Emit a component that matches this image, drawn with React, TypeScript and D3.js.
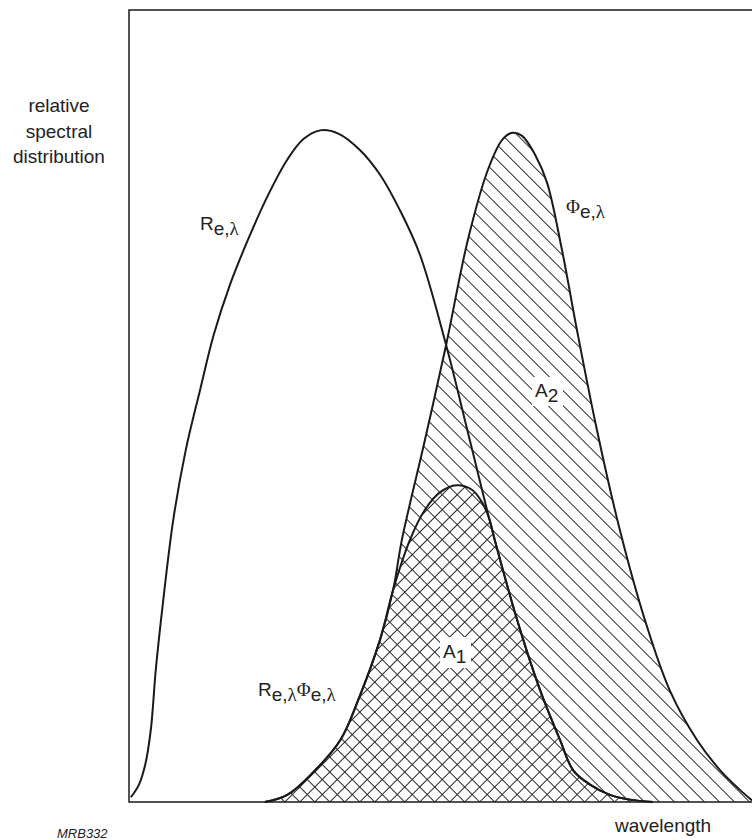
import React from "react";
import * as d3 from "d3";

// wavelength (arbitrary units, 0..100 across the frame) and relative value (0..100)
const reWl = [0.3, 1.6, 2.6, 3.5, 4.3, 5.5, 7.1, 9.1, 11.4, 13.6, 16.2, 19.1, 22.3, 25.4, 28.0, 30.7, 33.6, 37.1, 40.3, 43.5, 46.7, 50.9, 54.7, 58.7, 62.8, 66.0, 69.2, 71.3, 74.0, 77.2, 80.4, 84.1];
const reVal = [0.6, 2.2, 4.7, 9.1, 16.7, 25.5, 35.6, 44.4, 52.0, 59.0, 65.3, 71.0, 76.6, 81.1, 83.7, 84.8, 84.4, 82.3, 79.2, 74.7, 69.1, 57.7, 45.7, 33.1, 21.7, 14.1, 7.8, 4.0, 2.2, 0.9, 0.3, 0];

const phiWl = [21.8, 25.4, 29.5, 33.9, 36.8, 40.3, 42.4, 43.8, 47.5, 50.9, 54.4, 57.6, 59.9, 61.5, 63.1, 65.2, 67.1, 69.5, 71.9, 75.1, 78.8, 82.8, 86.8, 91.2, 94.9, 98.1, 100];
const phiVal = [0, 0.9, 3.7, 7.8, 12.9, 20.5, 26.8, 33.1, 45.7, 57.7, 71.0, 79.8, 83.6, 84.5, 84.1, 81.7, 78.2, 69.7, 59.6, 47.0, 34.3, 23.0, 14.1, 7.8, 4.0, 1.5, 0.2];

const prodWl = [21.8, 25.4, 29.5, 33.9, 36.8, 40.3, 42.4, 45.1, 47.5, 49.9, 52.6, 55.1, 56.7, 57.9, 58.7, 62.8, 66.0, 69.2, 71.3, 74.0, 77.2, 80.4, 84.1];
const prodVal = [0, 0.9, 3.7, 7.8, 12.9, 20.5, 26.8, 33.1, 36.9, 39.1, 40.0, 39.4, 37.8, 35.6, 33.1, 21.7, 14.1, 7.8, 4.0, 2.2, 0.9, 0.3, 0];

const yLabel = ["relative", "spectral", "distribution"];

const W = 752;
const H = 840;
const left = 129;
const top = 10;
const bottom = 802;

const x = d3.scaleLinear().domain([0, 100]).range([left, W]);
const y = d3.scaleLinear().domain([0, 100]).range([bottom, top]);

const toPts = (wl: number[], v: number[]) => wl.map((w, i) => [w, v[i]] as [number, number]);

const line = d3
  .line<[number, number]>()
  .x((d) => x(d[0]))
  .y((d) => y(d[1]))
  .curve(d3.curveCatmullRom.alpha(0.5));

const area = d3
  .area<[number, number]>()
  .x((d) => x(d[0]))
  .y0(y(0))
  .y1((d) => y(d[1]))
  .curve(d3.curveCatmullRom.alpha(0.5));

const ink = "#1a1a1a";
const sans = "'Liberation Sans', Arial, Helvetica, sans-serif";
const serif = "'Liberation Serif', 'Times New Roman', serif";

export default function App() {
  const re = toPts(reWl, reVal);
  const phi = toPts(phiWl, phiVal);
  const prod = toPts(prodWl, prodVal);

  return (
    <svg width={W} height={H} style={{ position: "absolute", left: 0, top: 0, background: "#fff" }}>
      <defs>
        <pattern id="back" patternUnits="userSpaceOnUse" width={10.6} height={10.6} patternTransform="rotate(-45)">
          <line x1={5.3} y1={-1} x2={5.3} y2={12} stroke="#222" strokeWidth={1} />
        </pattern>
        <pattern id="fwd" patternUnits="userSpaceOnUse" width={10.6} height={10.6} patternTransform="rotate(45)">
          <line x1={5.3} y1={-1} x2={5.3} y2={12} stroke="#222" strokeWidth={1} />
        </pattern>
      </defs>

      {/* hatched areas */}
      <path d={area(phi) ?? ""} fill="url(#back)" />
      <path d={area(prod) ?? ""} fill="url(#fwd)" />

      {/* white boxes behind area labels */}
      <rect x={440} y={637} width={31} height={31} fill="#fff" />
      <rect x={532} y={377} width={31} height={29} fill="#fff" />

      {/* curves */}
      <path d={line(re) ?? ""} fill="none" stroke={ink} strokeWidth={2} />
      <path d={line(phi) ?? ""} fill="none" stroke={ink} strokeWidth={2} />
      <path d={line(prod) ?? ""} fill="none" stroke={ink} strokeWidth={2} />

      {/* frame */}
      <path d={`M${W},${top}H${left}V${bottom}H${W}`} fill="none" stroke={ink} strokeWidth={1.5} />

      {/* labels */}
      <g fontFamily={sans} fontSize={19} fill="#222">
        <text textAnchor="middle" x={59}>
          {yLabel.map((t, i) => (
            <tspan key={t} x={59} y={112 + i * 25.5}>
              {t}
            </tspan>
          ))}
        </text>
        <text x={615} y={832}>wavelength</text>
        <text x={57} y={838} fontSize={13} fontStyle="italic">
          MRB332
        </text>

        <text x={200} y={230}>
          R<tspan dy={5}>e,</tspan>
          <tspan fontFamily={serif}>λ</tspan>
        </text>
        <text x={566} y={213}>
          <tspan fontFamily={serif}>Φ</tspan>
          <tspan dy={5}>e,</tspan>
          <tspan fontFamily={serif}>λ</tspan>
        </text>
        <text x={258} y={696}>
          R<tspan dy={5}>e,</tspan>
          <tspan fontFamily={serif}>λ</tspan>
          <tspan dy={-5} fontFamily={serif}>Φ</tspan>
          <tspan dy={5}>e,</tspan>
          <tspan fontFamily={serif}>λ</tspan>
        </text>
        <text x={443} y={658}>
          A<tspan dy={5}>1</tspan>
        </text>
        <text x={535} y={397}>
          A<tspan dy={5}>2</tspan>
        </text>
      </g>
    </svg>
  );
}
